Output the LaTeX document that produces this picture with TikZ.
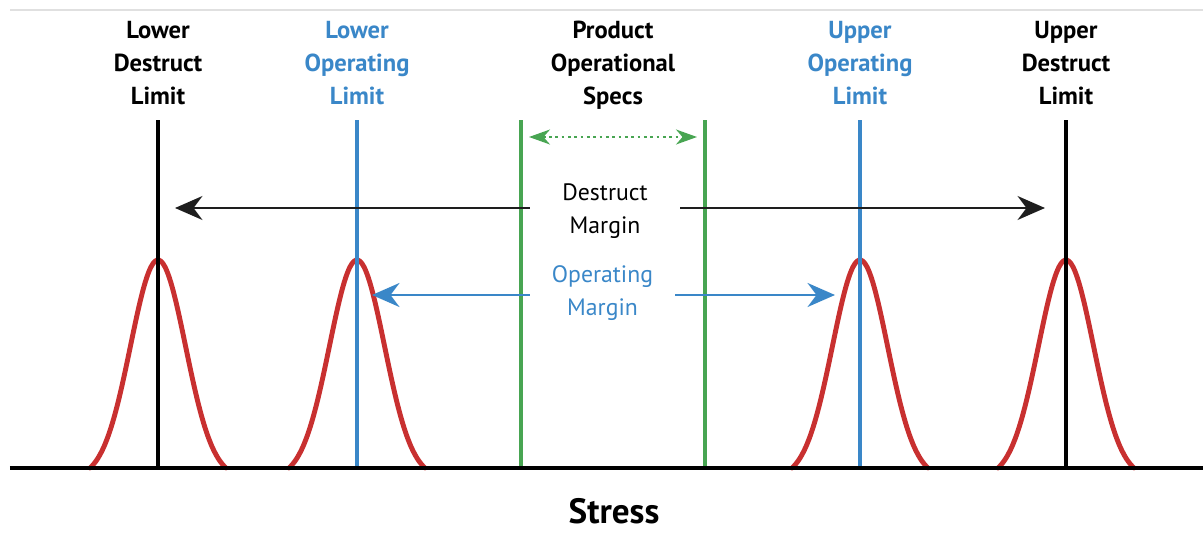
\documentclass[tikz,border=0pt]{standalone}
\usepackage{fontspec}
\setmainfont{PT Sans}
\usetikzlibrary{arrows.meta}

\definecolor{limblue}{RGB}{58,135,200}
\definecolor{specgreen}{RGB}{72,165,82}
\definecolor{bellred}{RGB}{200,48,48}
\definecolor{arrowgray}{RGB}{30,30,30}

\begin{document}
\begin{tikzpicture}[
    limit/.style={line width=2.1pt},
    bell/.style={draw=bellred, line width=2.8pt, line cap=round},
    toplabel/.style={align=center, font=\bfseries\fontsize{14}{18.7}\selectfont},
    marginlabel/.style={align=center, font=\fontsize{13.5}{18.7}\selectfont, inner sep=0pt},
    bigtip/.style={-{Stealth[length=0.55cm,width=0.48cm,inset=0.18cm]}, line width=1.1pt}
]
    \useasboundingbox (0,0) rectangle (24.06,10.64);
    % Thin rule along the top
    \draw[black!12, line width=0.6pt] (0.2,10.44) -- (24.06,10.44);

    % Labels over the limit lines
    \node[toplabel] (ldl) at (3.16,9.38) {Lower\\Destruct\\Limit};
    \node[toplabel, text=limblue] (lol) at (7.14,9.38) {Lower\\Operating\\Limit};
    \node[toplabel] (pos) at (12.26,9.34) {Product\\Operational\\Specs};
    \node[toplabel, text=limblue] (uol) at (17.20,9.38) {Upper\\Operating\\Limit};
    \node[toplabel] (udl) at (21.32,9.38) {Upper\\Destruct\\Limit};

    % Bell curves around each limit
    \foreach \c in {3.16,7.14,17.20,21.32}
        \draw[bell] plot[domain=-1.36:1.36, samples=70, smooth]
            ({\c+\x},{1.28+4.16*(exp(-(\x)^2/(2*0.55^2))-0.047)/0.953});

    % Top and bottom ends of the vertical lines
    \foreach \n/\x in {ldl/3.16,lol/7.14,psl/10.42,psr/14.10,uol/17.20,udl/21.32} {
        \coordinate (\n-top) at (\x,8.24);
        \coordinate (\n-bot) at (\x,1.28);
    }

    % Destruct limits
    \draw[limit, black] (ldl-top) -- (ldl-bot);
    \draw[limit, black] (udl-top) -- (udl-bot);
    % Operating limits
    \draw[limit, limblue] (lol-top) -- (lol-bot);
    \draw[limit, limblue] (uol-top) -- (uol-bot);
    % Operational specs
    \draw[limit, specgreen] (psl-top) -- (psl-bot);
    \draw[limit, specgreen] (psr-top) -- (psr-bot);

    % Stress axis
    \coordinate (axl) at (0.2,1.28);
    \coordinate (axr) at (24.06,1.28);
    \draw[line width=2.8pt] (axl) -- (axr);
    \node[font=\bfseries\fontsize{20}{24}\selectfont, inner sep=1pt] (stress) at (12.28,0.42) {Stress};

    % Spec range arrow
    \coordinate (specl) at (10.58,7.90);
    \coordinate (specr) at (13.94,7.90);
    \draw[specgreen, line width=1.1pt, dash pattern=on 1.6pt off 2pt,
        {Stealth[length=0.42cm,width=0.3cm,inset=0.13cm]}-{Stealth[length=0.42cm,width=0.3cm,inset=0.13cm]}]
        (specl) -- (specr);

    % Destruct margin
    \node[marginlabel, minimum width=3cm] (dm) at (12.10,6.41) {Destruct\\Margin};
    \coordinate (dml) at (3.50,6.48);
    \coordinate (dmr) at (20.90,6.48);
    \draw[bigtip, arrowgray] (dm.west |- dml) -- (dml);
    \draw[bigtip, arrowgray] (dm.east |- dmr) -- (dmr);

    % Operating margin
    \node[marginlabel, minimum width=2.9cm, text=limblue] (om) at (12.05,4.78) {Operating\\Margin};
    \coordinate (oml) at (7.44,4.74);
    \coordinate (omr) at (16.70,4.74);
    \draw[bigtip, limblue, line width=1.4pt] (om.west |- oml) -- (oml);
    \draw[bigtip, limblue, line width=1.4pt] (om.east |- omr) -- (omr);
\end{tikzpicture}
\end{document}
